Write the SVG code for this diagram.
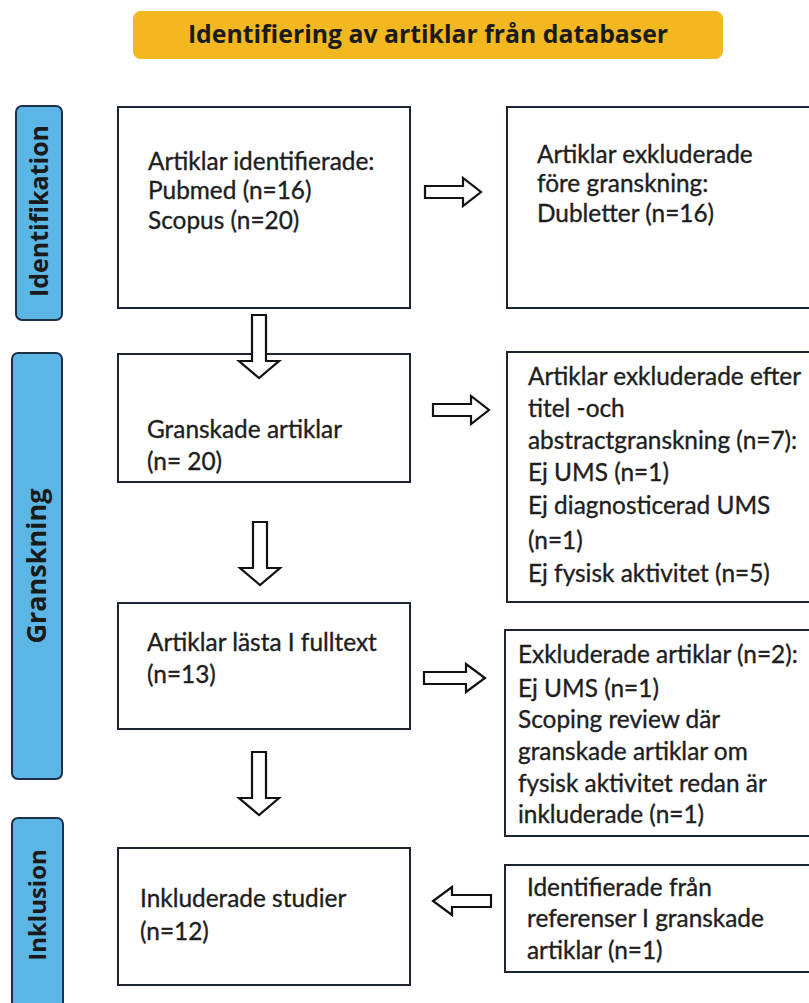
<svg xmlns="http://www.w3.org/2000/svg" width="809" height="1003" viewBox="0 0 809 1003">
<style>
.box{fill:#fff;stroke:#1c2333;stroke-width:2}
.side{fill:#5bb6e6;stroke:#1d2f4a;stroke-width:2}
.arr{fill:#fff;stroke:#111;stroke-width:2.2;stroke-linejoin:miter}
.t{font-family:Lato,"Liberation Sans",sans-serif;font-size:24.4px;fill:#1e1e1e;stroke:#1e1e1e;stroke-width:0.35}
.s{font-family:"Open Sans","Liberation Sans",sans-serif;font-weight:bold;fill:#1a1a1a}
.h{font-family:"Open Sans","Liberation Sans",sans-serif;font-weight:bold;font-size:24.8px;fill:#1a1a1a}
</style>
<rect width="809" height="1003" fill="#fff"/>
<g id="banner">
<rect x="133" y="11" width="590" height="48" rx="8" fill="#f3b81f"/>
<text class="h" x="428" y="43" text-anchor="middle">Identifiering av artiklar från databaser</text>
</g>
<g id="side-identifikation">
<rect class="side" x="16" y="106" width="46" height="214" rx="6"/>
<text class="s" font-size="25" transform="translate(48,211) rotate(-90)" text-anchor="middle">Identifikation</text>
</g>
<g id="side-granskning">
<rect class="side" x="12" y="353" width="50" height="426" rx="6"/>
<text class="s" font-size="27" transform="translate(46,566) rotate(-90)" text-anchor="middle">Granskning</text>
</g>
<g id="side-inklusion">
<rect class="side" x="12" y="818" width="51" height="196" rx="6"/>
<text class="s" font-size="24" transform="translate(46,905) rotate(-90)" text-anchor="middle">Inklusion</text>
</g>
<g id="box-identifierade">
<rect class="box" x="118" y="107" width="292" height="201"/>
<text class="t" x="148" y="170">Artiklar identifierade:</text>
<text class="t" x="148" y="199">Pubmed (n=16)</text>
<text class="t" x="148" y="229">Scopus (n=20)</text>
</g>
<g id="box-exkluderade-fore">
<rect class="box" x="507" y="107" width="310" height="201"/>
<text class="t" x="537" y="163">Artiklar exkluderade</text>
<text class="t" x="537" y="192">före granskning:</text>
<text class="t" x="537" y="222">Dubletter (n=16)</text>
</g>
<g id="box-granskade">
<rect class="box" x="118" y="354" width="292" height="128"/>
<text class="t" x="147" y="438">Granskade artiklar</text>
<text class="t" x="147" y="470">(n= 20)</text>
</g>
<g id="box-exkluderade-efter">
<rect class="box" x="507" y="352" width="310" height="250"/>
<text class="t" x="528" y="385">Artiklar exkluderade efter</text>
<text class="t" x="528" y="417">titel -och</text>
<text class="t" x="528" y="449">abstractgranskning (n=7):</text>
<text class="t" x="528" y="481">Ej UMS (n=1)</text>
<text class="t" x="528" y="514">Ej diagnosticerad UMS</text>
<text class="t" x="528" y="549">(n=1)</text>
<text class="t" x="528" y="582">Ej fysisk aktivitet (n=5)</text>
</g>
<g id="box-fulltext">
<rect class="box" x="118" y="603" width="292" height="126"/>
<text class="t" x="147" y="651">Artiklar lästa I fulltext</text>
<text class="t" x="147" y="683">(n=13)</text>
</g>
<g id="box-exkluderade-fulltext">
<rect class="box" x="505" y="630" width="312" height="206"/>
<text class="t" x="518" y="663">Exkluderade artiklar (n=2):</text>
<text class="t" x="518" y="697">Ej UMS (n=1)</text>
<text class="t" x="518" y="728">Scoping review där</text>
<text class="t" x="518" y="760">granskade artiklar om</text>
<text class="t" x="518" y="792">fysisk aktivitet redan är</text>
<text class="t" x="518" y="823">inkluderade (n=1)</text>
</g>
<g id="box-inkluderade">
<rect class="box" x="118" y="848" width="292" height="137"/>
<text class="t" x="140" y="907">Inkluderade studier</text>
<text class="t" x="140" y="940">(n=12)</text>
</g>
<g id="box-referenser">
<rect class="box" x="505" y="865" width="312" height="107"/>
<text class="t" x="527" y="896">Identifierade från</text>
<text class="t" x="527" y="927">referenser I granskade</text>
<text class="t" x="527" y="959">artiklar (n=1)</text>
</g>
<g id="connectors">
<polygon class="arr" points="252,315 266,315 266,361 279,361 259,378 239,361 252,361"/>
<polygon class="arr" points="253,522 267,522 267,568 280,568 260,585 240,568 253,568"/>
<polygon class="arr" points="252,752 266,752 266,798 279,798 259,815 239,798 252,798"/>
<polygon class="arr" points="425,186 463,186 463,178 481,192 463,206 463,198 425,198"/>
<polygon class="arr" points="433,404 471,404 471,396 489,410 471,424 471,416 433,416"/>
<polygon class="arr" points="424,672 466,672 466,664 485,678 466,692 466,684 424,684"/>
<polygon class="arr" points="491,895 452,895 452,887 433,901 452,915 452,907 491,907"/>
</g>
</svg>
